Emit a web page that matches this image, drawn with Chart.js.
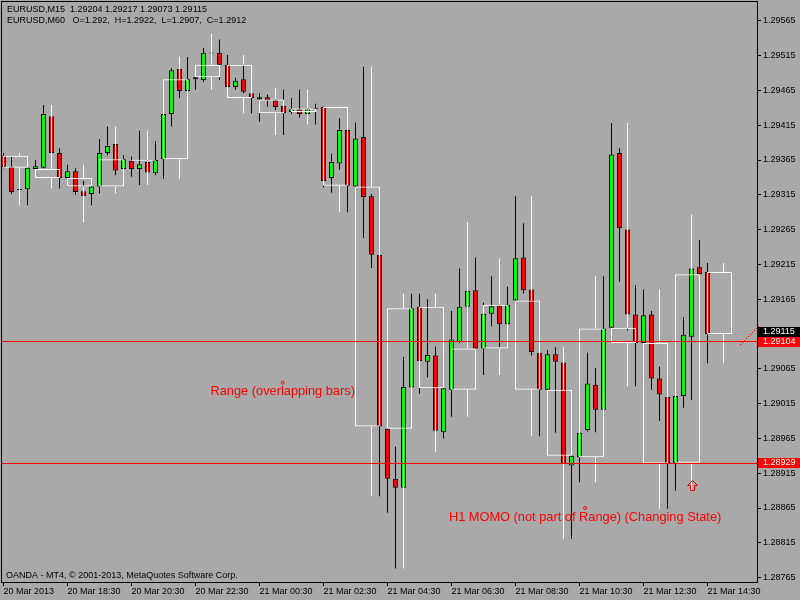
<!DOCTYPE html>
<html>
<head>
<meta charset="utf-8">
<script src="https://cdn.jsdelivr.net/npm/chart.js@4.4.1/dist/chart.umd.min.js"></script>
<style>
  html, body { margin: 0; padding: 0; background: #a9a9a9; }
  canvas { display: block; }
</style>
</head>
<body>
<canvas id="chart" width="800" height="600"></canvas>
<script>
// EURUSD M15 bars, 20 Mar 16:30 .. 21 Mar 14:30
const opens = [
  1.29371, 1.29355, 1.29322, 1.29323, 1.29352, 1.29354, 1.29428, 1.29375, 1.29339, 1.29349,
  1.29320, 1.29316, 1.29327, 1.29375, 1.29388, 1.29352, 1.29364, 1.29352, 1.29362, 1.29346,
  1.29366, 1.29431, 1.29496, 1.29464, 1.29484, 1.29480, 1.29518, 1.29519, 1.29502, 1.29470,
  1.29481, 1.29461, 1.29452, 1.29455, 1.29451, 1.29443, 1.29434, 1.29438, 1.29431, 1.29438,
  1.29441, 1.29339, 1.29360, 1.29408, 1.29327, 1.29398, 1.29313, 1.29229, 1.28979, 1.28907,
  1.28894, 1.29038, 1.29154, 1.29075, 1.29084, 1.28974, 1.29035, 1.29104, 1.29154, 1.29178,
  1.29094, 1.29144, 1.29156, 1.29129, 1.29163, 1.29225, 1.29179, 1.29088, 1.29035, 1.29086,
  1.29074, 1.28926, 1.28938, 1.28977, 1.29042, 1.29006, 1.29124, 1.29375, 1.29265, 1.29143,
  1.29102, 1.29143, 1.29051, 1.29025, 1.28930, 1.29026, 1.29111, 1.29211, 1.29204,
];
const highs = [
  1.29375, 1.29370, 1.29326, 1.29356, 1.29365, 1.29444, 1.29434, 1.29382, 1.29358, 1.29353,
  1.29335, 1.29336, 1.29395, 1.29413, 1.29394, 1.29372, 1.29370, 1.29407, 1.29368, 1.29392,
  1.29434, 1.29497, 1.29514, 1.29513, 1.29486, 1.29526, 1.29546, 1.29538, 1.29516, 1.29483,
  1.29512, 1.29463, 1.29461, 1.29459, 1.29469, 1.29466, 1.29454, 1.29466, 1.29459, 1.29446,
  1.29442, 1.29374, 1.29425, 1.29411, 1.29419, 1.29499, 1.29316, 1.29230, 1.28980, 1.28953,
  1.29082, 1.29173, 1.29173, 1.29165, 1.29097, 1.29066, 1.29148, 1.29209, 1.29276, 1.29225,
  1.29160, 1.29198, 1.29224, 1.29183, 1.29313, 1.29274, 1.29181, 1.29090, 1.29092, 1.29096,
  1.29077, 1.28941, 1.28974, 1.29088, 1.29066, 1.29198, 1.29418, 1.29382, 1.29268, 1.29185,
  1.29179, 1.29148, 1.29068, 1.29027, 1.29027, 1.29139, 1.29287, 1.29250, 1.29217,
];
const lows = [
  1.29353, 1.29316, 1.29319, 1.29300, 1.29351, 1.29353, 1.29371, 1.29324, 1.29327, 1.29315,
  1.29275, 1.29300, 1.29317, 1.29372, 1.29343, 1.29348, 1.29341, 1.29329, 1.29342, 1.29343,
  1.29338, 1.29413, 1.29454, 1.29463, 1.29466, 1.29477, 1.29512, 1.29480, 1.29469, 1.29466,
  1.29461, 1.29432, 1.29420, 1.29442, 1.29437, 1.29401, 1.29431, 1.29426, 1.29428, 1.29416,
  1.29326, 1.29318, 1.29351, 1.29290, 1.29326, 1.29253, 1.29210, 1.28882, 1.28858, 1.28778,
  1.28883, 1.29034, 1.29029, 1.29053, 1.28945, 1.28965, 1.28996, 1.29102, 1.29149, 1.29092,
  1.29056, 1.29126, 1.29096, 1.29126, 1.29160, 1.29173, 1.29084, 1.28968, 1.29034, 1.28973,
  1.28919, 1.28821, 1.28902, 1.28975, 1.28974, 1.29003, 1.29120, 1.29190, 1.29120, 1.29040,
  1.29100, 1.29035, 1.28990, 1.28864, 1.28890, 1.29009, 1.29020, 1.29198, 1.29073,
];
const closes = [
  1.29355, 1.29319, 1.29323, 1.29354, 1.29356, 1.29431, 1.29375, 1.29339, 1.29349, 1.29319,
  1.29313, 1.29327, 1.29375, 1.29385, 1.29350, 1.29366, 1.29352, 1.29359, 1.29347, 1.29365,
  1.29431, 1.29494, 1.29464, 1.29481, 1.29481, 1.29519, 1.29519, 1.29502, 1.29470, 1.29479,
  1.29463, 1.29454, 1.29455, 1.29451, 1.29441, 1.29432, 1.29438, 1.29431, 1.29438, 1.29439,
  1.29335, 1.29362, 1.29408, 1.29328, 1.29396, 1.29312, 1.29229, 1.28982, 1.28907, 1.28894,
  1.29039, 1.29152, 1.29076, 1.29085, 1.28976, 1.29037, 1.29107, 1.29154, 1.29177, 1.29094,
  1.29144, 1.29155, 1.29129, 1.29157, 1.29224, 1.29178, 1.29089, 1.29035, 1.29086, 1.29075,
  1.28928, 1.28940, 1.28973, 1.29044, 1.29006, 1.29123, 1.29373, 1.29267, 1.29143, 1.29102,
  1.29142, 1.29051, 1.29028, 1.28929, 1.29026, 1.29114, 1.29209, 1.29201, 1.29115,
];

const priceTicks = [
  1.29565, 1.29515, 1.29465, 1.29415, 1.29365, 1.29315, 1.29265, 1.29215, 1.29165,
  1.29115, 1.29065, 1.29015, 1.28965, 1.28915, 1.28865, 1.28815, 1.28765,
];
const timeTickBars = [0, 8, 16, 24, 32, 40, 48, 56, 64, 72, 80, 88];
const timeLabels = [
  '20 Mar 2013', '20 Mar 18:30', '20 Mar 20:30', '20 Mar 22:30', '21 Mar 00:30', '21 Mar 02:30',
  '21 Mar 04:30', '21 Mar 06:30', '21 Mar 08:30', '21 Mar 10:30', '21 Mar 12:30', '21 Mar 14:30',
];
const levelPrices = [1.29104, 1.28929];
const trendPoints = [{ x: 92.0, y: 1.29100 }, { x: 94.3, y: 1.29126 }];
const notes = [
  { text: 'Range (overlapping bars)', bar: 34.9, price: 1.29045 },
  { text: 'H1 MOMO (not part of Range) (Changing State)', bar: 72.7, price: 1.28865 },
];
const arrowMark = { bar: 86, price: 1.28905 };

const X_MIN = -0.3125;
const X_MAX = 94.1875;
const font = { family: '"Liberation Sans", Arial, sans-serif', size: 9 };
const bull = '#00ff00';
const bear = '#ff0000';

const idx = opens.map((o, i) => i);
const last = opens.length - 1;

// H1 bars built from each group of four M15 bars
const h1 = [];
for (let s = 0; s < opens.length; s += 4) {
  const e = Math.min(s + 4, opens.length);
  h1.push({
    x: s,
    o: opens[s],
    c: closes[e - 1],
    h: Math.max(...highs.slice(s, e)),
    l: Math.min(...lows.slice(s, e)),
  });
}

const barSet = (data, extra) => Object.assign({
  type: 'bar',
  data: data,
  grouped: false,
  borderSkipped: false,
  inflateAmount: 0,
}, extra);

const datasets = [
  barSet(idx.map(i => ({ x: i, y: [lows[i], highs[i]] })), {
    backgroundColor: '#000000', barThickness: 1, order: 5,
  }),
  barSet(idx.map(i => ({ x: i, y: [opens[i], closes[i]] })), {
    backgroundColor: idx.map(i => closes[i] >= opens[i] ? bull : bear),
    borderColor: '#000000', borderWidth: 1, barThickness: 5, minBarLength: 1, order: 4,
  }),
  barSet(h1.map(b => ({ x: b.x + 1.5, y: [b.o, b.c] })), {
    backgroundColor: 'rgba(0,0,0,0)',
    borderColor: '#ffffff', borderWidth: 1, barThickness: 25, minBarLength: 1, order: 3,
  }),
  barSet(h1.map(b => ({ x: b.x + 2, y: [Math.max(b.o, b.c), b.h] })), {
    backgroundColor: '#ffffff', barThickness: 1, order: 2,
  }),
  barSet(h1.map(b => ({ x: b.x + 2, y: [b.l, Math.min(b.o, b.c)] })), {
    backgroundColor: '#ffffff', barThickness: 1, order: 2,
  }),
];

const overlay = {
  id: 'overlay',
  afterDatasetsDraw(chart) {
    const { ctx, chartArea: a, scales: { x, y } } = chart;
    ctx.save();

    // horizontal levels, snapped to whole pixels
    ctx.fillStyle = '#ff0000';
    levelPrices.forEach(p => {
      const py = Math.round(y.getPixelForValue(p) - 0.5);
      ctx.fillRect(a.left, py, a.right - a.left, 1);
    });

    // dotted trend line
    const p0 = { x: x.getPixelForValue(trendPoints[0].x), y: y.getPixelForValue(trendPoints[0].y) };
    const p1 = { x: x.getPixelForValue(trendPoints[1].x), y: y.getPixelForValue(trendPoints[1].y) };
    const steps = Math.round(Math.abs(p1.x - p0.x));
    for (let k = 0; k <= steps; k += 2) {
      const t = k / steps;
      ctx.fillRect(Math.round(p0.x + (p1.x - p0.x) * t), Math.round(p0.y + (p1.y - p0.y) * t), 1, 1);
    }

    ctx.strokeStyle = '#000000';
    ctx.lineWidth = 1;
    ctx.strokeRect(a.left + 0.5, a.top + 0.5, a.right - a.left, a.bottom - a.top);

    ctx.font = `9px ${font.family}`;
    ctx.textAlign = 'left';
    ctx.textBaseline = 'middle';
    ctx.fillStyle = '#000000';
    const ohlc = [opens, highs, lows, closes].map(s => s[last].toFixed(5)).join(' ');
    ctx.fillText('EURUSD,M15  ' + ohlc, 7, 10);
    ctx.fillText('EURUSD,M60   O=1.292,  H=1.2922,  L=1.2907,  C=1.2912', 7, 20.5);
    ctx.fillText('OANDA - MT4, \u00a9 2001-2013, MetaQuotes Software Corp.', 6, 575.5);

    // price tags on the right axis
    const tag = (price, bg, shift) => {
      const py = Math.round(y.getPixelForValue(price));
      ctx.fillStyle = bg;
      ctx.fillRect(a.right + 1, py - 5 + shift, chart.width - a.right - 1, 10);
      ctx.fillStyle = '#ffffff';
      ctx.fillText(price.toFixed(5), a.right + 6, py + shift);
    };
    tag(closes[last], '#000000', -2);
    levelPrices.forEach(p => tag(p, '#ff0000', 0));

    ctx.font = `12.8px ${font.family}`;
    ctx.textAlign = 'center';
    ctx.fillStyle = '#ff0000';
    ctx.strokeStyle = '#ff0000';
    notes.forEach(n => {
      const px = x.getPixelForValue(n.bar);
      const py = y.getPixelForValue(n.price);
      ctx.beginPath();
      ctx.arc(px, py, 1.5, 0, Math.PI * 2);
      ctx.stroke();
      ctx.fillText(n.text, px, py + 9);
    });

    // hollow up arrow
    const ax = Math.round(x.getPixelForValue(arrowMark.bar)) + 0.5;
    const ay = Math.round(y.getPixelForValue(arrowMark.price)) + 0.5;
    ctx.beginPath();
    ctx.moveTo(ax, ay);
    ctx.lineTo(ax + 5, ay + 5);
    ctx.lineTo(ax + 2, ay + 5);
    ctx.lineTo(ax + 2, ay + 10);
    ctx.lineTo(ax - 2, ay + 10);
    ctx.lineTo(ax - 2, ay + 5);
    ctx.lineTo(ax - 5, ay + 5);
    ctx.closePath();
    ctx.stroke();

    ctx.restore();
  },
};

new Chart(document.getElementById('chart'), {
  type: 'bar',
  data: { datasets },
  options: {
    responsive: false,
    devicePixelRatio: 1,
    animation: false,
    layout: { padding: { left: 1, top: 1, right: 0, bottom: 0 } },
    plugins: {
      legend: { display: false },
      tooltip: { enabled: false },
    },
    scales: {
      x: {
        type: 'linear',
        min: X_MIN,
        max: X_MAX,
        offset: false,
        grid: { drawOnChartArea: false, offset: false, tickLength: 4, color: '#000000' },
        border: { display: false },
        ticks: {
          autoSkip: false, maxRotation: 0, minRotation: 0, align: 'start', padding: 0,
          color: '#000000', font,
          callback: (v, i) => timeLabels[i],
        },
        afterBuildTicks: s => { s.ticks = timeTickBars.map(v => ({ value: v })); },
        afterFit: s => { s.height = 18; s.paddingLeft = 0; s.paddingRight = 0; },
      },
      y: {
        type: 'linear',
        position: 'right',
        min: 1.2875868,
        max: 1.2959345,
        beginAtZero: false,
        grid: { drawOnChartArea: false, tickLength: 4, color: '#000000' },
        border: { display: false },
        ticks: {
          autoSkip: false, padding: 2, color: '#000000', font,
          callback: v => v.toFixed(5),
        },
        afterBuildTicks: s => { s.ticks = priceTicks.map(v => ({ value: v })); },
        afterFit: s => { s.width = 43; s.paddingTop = 0; s.paddingBottom = 0; },
      },
    },
  },
  plugins: [overlay],
});
</script>
</body>
</html>
